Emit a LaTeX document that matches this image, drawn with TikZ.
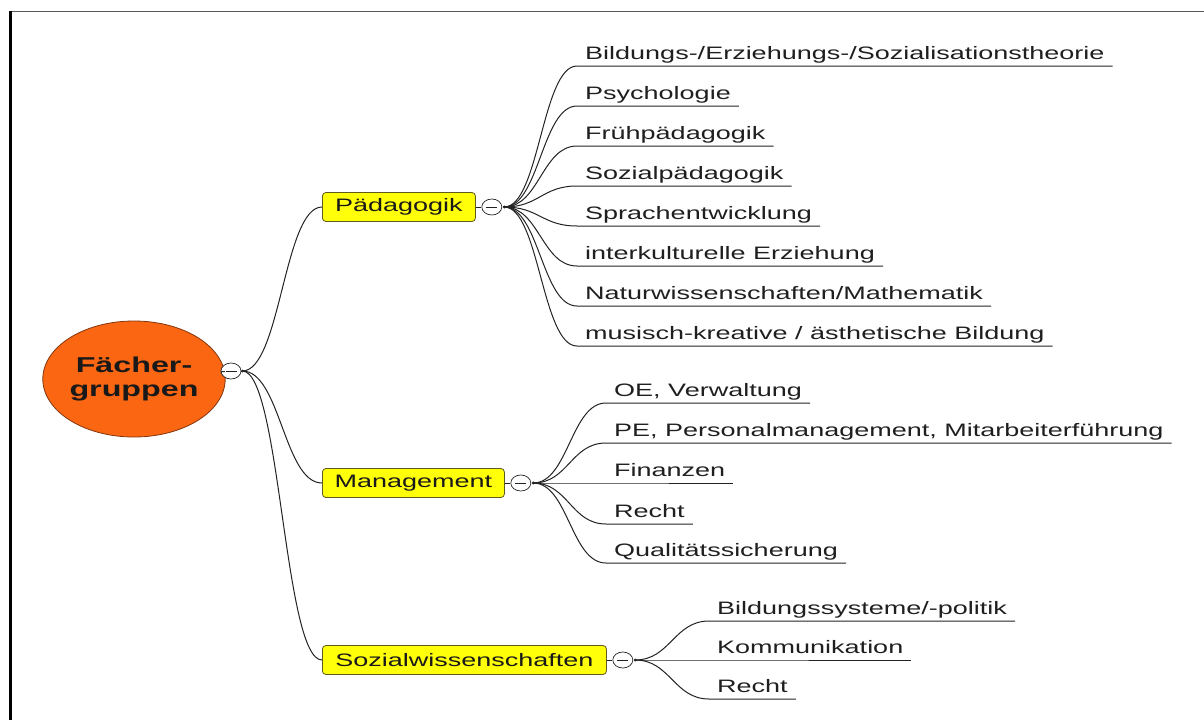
\documentclass[tikz,border=0pt]{standalone}
\usepackage{fontspec}
\setmainfont{Liberation Sans}[FakeStretch=1.5]
\usetikzlibrary{shapes.geometric}

\definecolor{rootfill}{RGB}{250,102,18}
\definecolor{rootedge}{RGB}{130,55,15}
\definecolor{boxfill}{RGB}{255,255,10}
\definecolor{boxedge}{RGB}{95,90,30}
\definecolor{linkcol}{RGB}{35,35,35}

\begin{document}
\begin{tikzpicture}[x=1pt, y=-1pt,
  root/.style={ellipse, draw=rootedge, fill=rootfill, line width=0.8pt,
    minimum width=160pt, minimum height=116pt, inner sep=0pt, align=center,
    font=\fontsize{21.5}{24}\selectfont\bfseries, text=black!90},
  topic/.style={anchor=west, draw=boxedge, fill=boxfill, rounded corners=3.5pt,
    line width=0.8pt, font=\fontsize{18}{20}\selectfont, minimum height=29pt,
    inner xsep=9pt, inner ysep=0pt, text=black!90},
  leaf/.style={anchor=south west, font=\fontsize{18}{20}\selectfont,
    inner xsep=8pt, inner ysep=2.5pt, text height=13pt, text depth=4pt, text=black!88},
  toggle/.style={ellipse, draw=linkcol, fill=white, line width=0.7pt,
    minimum width=20pt, minimum height=16pt, inner sep=0pt,
    path picture={\draw[linkcol, line width=0.9pt]
      ([xshift=4.5pt]path picture bounding box.west) --
      ([xshift=-4.5pt]path picture bounding box.east);}},
  link/.style={draw=linkcol, line width=1pt},
  hubdot/.style={fill=linkcol}
]
\useasboundingbox (0,0) rectangle (1204,720);

% page frame
\draw[black!65, line width=1.1pt] (10,11.5) -- (1204,11.5);
\draw[black, line width=2.2pt] (10.5,11) -- (10.5,720);

% central topic
\node[root] (root) at (134,379) {Fächer-\\gruppen};
\node[toggle] (t0) at (231,371) {};
\draw[link] (root) -- (t0);
\coordinate (h0) at ([xshift=1pt]t0.east);

% main topics
\node[topic, minimum width=153pt] (pad) at (322,207) {Pädagogik};
\node[topic, minimum width=182pt] (man) at (322,483) {Management};
\node[topic, minimum width=284pt] (soz) at (322,660) {Sozialwissenschaften};

\foreach \n in {pad,man,soz}
  \draw[link] (h0) .. controls +(38,0) and +(-38,0) .. (\n.west);
\fill[hubdot] (h0) circle[radius=1.6pt];

\node[toggle] (tp) at ([xshift=16pt]pad.east) {};
\node[toggle] (tm) at ([xshift=16pt]man.east) {};
\node[toggle] (ts) at ([xshift=16pt]soz.east) {};
\draw[link] (pad.east) -- (tp.west);
\draw[link] (man.east) -- (tm.west);
\draw[link] (soz.east) -- (ts.west);
\coordinate (hp) at ([xshift=2pt]tp.east);
\coordinate (hm) at ([xshift=2pt]tm.east);
\coordinate (hs) at ([xshift=2pt]ts.east);

% subtopics: Pädagogik
\node[leaf] (p1) at (577,66)  {Bildungs-/Erziehungs-/Sozialisationstheorie};
\node[leaf] (p2) at (577,106) {Psychologie};
\node[leaf] (p3) at (577,146) {Frühpädagogik};
\node[leaf] (p4) at (577,186) {Sozialpädagogik};
\node[leaf] (p5) at (577,226) {Sprachentwicklung};
\node[leaf] (p6) at (577,266) {interkulturelle Erziehung};
\node[leaf] (p7) at (577,306) {Naturwissenschaften/Mathematik};
\node[leaf] (p8) at (577,346) {musisch-kreative / ästhetische Bildung};
\foreach \i in {1,...,8}
  \draw[link] (hp) .. controls +(35,0) and +(-35,0) .. (p\i.south west) -- (p\i.south east);
\fill[hubdot] (hp) circle[radius=1.6pt];

% subtopics: Management
\node[leaf] (m1) at (606,403) {OE, Verwaltung};
\node[leaf] (m2) at (606,443) {PE, Personalmanagement, Mitarbeiterführung};
\node[leaf] (m3) at (606,483) {Finanzen};
\node[leaf] (m4) at (606,524) {Recht};
\node[leaf] (m5) at (606,563) {Qualitätssicherung};
\foreach \i in {1,...,5}
  \draw[link] (hm) .. controls +(35,0) and +(-35,0) .. (m\i.south west) -- (m\i.south east);
\fill[hubdot] (hm) circle[radius=1.6pt];

% subtopics: Sozialwissenschaften
\node[leaf] (s1) at (709,621) {Bildungssysteme/-politik};
\node[leaf] (s2) at (709,660) {Kommunikation};
\node[leaf] (s3) at (709,699) {Recht};
\foreach \i in {1,...,3}
  \draw[link] (hs) .. controls +(35,0) and +(-35,0) .. (s\i.south west) -- (s\i.south east);
\fill[hubdot] (hs) circle[radius=1.6pt];
\end{tikzpicture}
\end{document}
